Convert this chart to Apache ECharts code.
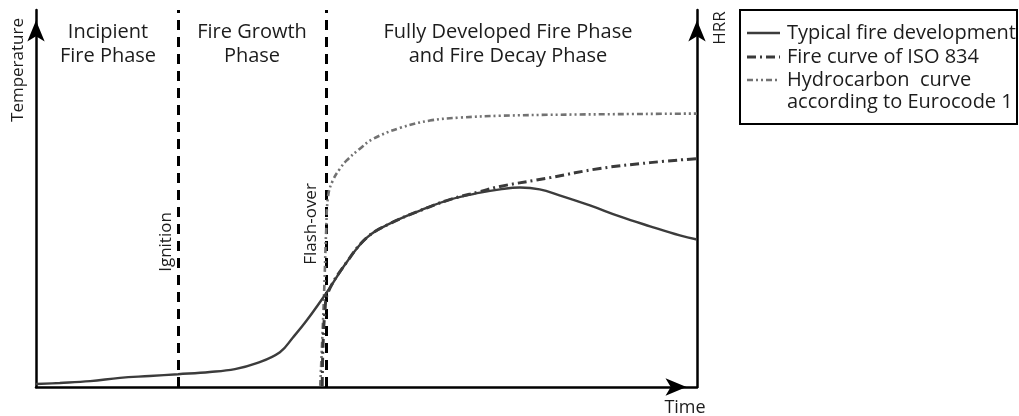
<!DOCTYPE html>
<html>
<head>
<meta charset="utf-8">
<title>Fire development phases</title>
<script src="https://cdn.jsdelivr.net/npm/echarts@6.0.0/dist/echarts.min.js"></script>
<style>
  html, body { margin: 0; padding: 0; background: #fff; }
  #chart { width: 1019px; height: 416px; }
</style>
</head>
<body>
<div id="chart"></div>
<script>
// time (0-100) vs temperature (0-103), relative units
const typicalFire = [
  [0, 0.8], [3.6, 1.1], [8.2, 1.6], [12.7, 2.5], [17.2, 3.0], [21.5, 3.5],
  [26.3, 4.1], [30.1, 4.9], [33.4, 6.5], [36.9, 9.5], [38.9, 13.6], [41.0, 18.3],
  [44.0, 25.9], [47.0, 34.1], [50.1, 40.9], [53.6, 44.7], [58.1, 48.2], [62.6, 51.2],
  [67.2, 53.1], [70.2, 54.0], [73.2, 54.5], [76.2, 54.0], [79.3, 52.3], [83.8, 49.6],
  [88.3, 46.6], [92.9, 43.9], [97.4, 41.4], [100, 40.3]
]
const isoCurve = [
  [43.3, 0.3], [43.4, 10.1], [43.7, 20.4], [44.2, 25.9], [47.0, 34.1], [50.1, 40.9],
  [53.6, 44.7], [58.1, 48.2], [62.6, 51.2], [67.2, 53.4], [70.2, 54.8], [77.8, 57.2],
  [85.3, 59.7], [92.9, 61.3], [100, 62.4]
]
const hydrocarbonCurve = [
  [43.0, 0.3], [43.3, 12.8], [43.6, 26.4], [43.9, 42.8], [44.2, 52.3], [44.9, 56.4],
  [46.0, 59.7], [47.0, 61.9], [49.0, 65.1], [51.0, 67.8], [55.1, 70.8], [59.6, 72.8],
  [64.1, 73.6], [70.2, 74.1], [79.3, 74.4], [100, 74.7]
]
const phaseBounds = [21.5, 43.9] // ignition, flash-over
const phaseTitles = [
  ['Incipient', 'Fire Phase'],
  ['Fire Growth', 'Phase'],
  ['Fully Developed Fire Phase', 'and Fire Decay Phase']
]
const legendNames = ['Typical fire development', 'Fire curve of ISO 834', 'Hydrocarbon  curve', 'according to Eurocode 1']

const FONT = '"Open Sans", sans-serif'
const TXT = '#1c1c1c'

const styles = [
  { color: '#3c3c3c', width: 2.4, type: 'solid' },
  { color: '#3a3a3a', width: 3, type: [9, 4, 2, 4] },
  { color: '#727272', width: 2.6, type: [6, 3, 2, 3, 2, 3] }
]

const chart = echarts.init(document.getElementById('chart'))

const axisLine = {
  show: true,
  symbol: ['none', 'arrow'],
  symbolSize: [13, 21],
  symbolOffset: [0, -10.5],
  lineStyle: { color: '#000', width: 2.5 }
}

const titleCenters = [108, 252, 508]
const graphics = []
phaseTitles.forEach((lines, i) => {
  lines.forEach((t, j) => {
    graphics.push({
      type: 'text', x: titleCenters[i], y: 32 + j * 24,
      style: { text: t, align: 'center', verticalAlign: 'middle', font: '20px ' + FONT, fill: TXT }
    })
  })
})
const rotLabel = (text, x, y, size) => ({
  type: 'text', x, y, rotation: Math.PI / 2,
  style: { text, align: 'center', verticalAlign: 'middle', font: size + 'px ' + FONT, fill: TXT }
})
graphics.push(rotLabel('Temperature', 18, 70, 17))
graphics.push(rotLabel('Ignition', 166, 242, 17))
graphics.push(rotLabel('Flash-over', 311, 224, 17))
graphics.push(rotLabel('HRR', 720, 28, 17))
graphics.push({
  type: 'text', x: 685, y: 408,
  style: { text: 'Time', align: 'center', verticalAlign: 'middle', font: '18px ' + FONT, fill: TXT }
})

// legend box
const legendChildren = [{
  type: 'rect', shape: { x: 0, y: 0, width: 277, height: 114 },
  style: { fill: '#fff', stroke: '#000', lineWidth: 2 }
}]
const rowY = [23, 47, 70, 92]
styles.forEach((s, i) => {
  legendChildren.push({
    type: 'line', shape: { x1: 7, y1: rowY[i], x2: 40, y2: rowY[i] },
    style: { stroke: s.color, lineWidth: s.width, lineDash: s.type === 'solid' ? null : s.type }
  })
})
legendNames.forEach((n, i) => {
  legendChildren.push({
    type: 'text', x: 47, y: rowY[i],
    style: { text: n, align: 'left', verticalAlign: 'middle', font: '20px ' + FONT, fill: TXT }
  })
})
graphics.push({ type: 'group', x: 740, y: 10, children: legendChildren })

const seriesData = [typicalFire, isoCurve, hydrocarbonCurve]
const series = seriesData.map((d, i) => ({
  name: legendNames[i],
  type: 'line',
  data: d,
  showSymbol: false,
  smooth: 0.4,
  z: 10 - i,
  lineStyle: styles[i]
}))
series[0].markLine = {
  silent: true,
  symbol: 'none',
  label: { show: false },
  lineStyle: { color: '#000', width: 3, type: [10, 7] },
  data: phaseBounds.map(v => ({ xAxis: v }))
}

chart.setOption({
  animation: false,
  grid: { left: 36, right: 322, top: 10, bottom: 29 },
  xAxis: {
    type: 'value', min: 0, max: 100,
    axisLine: axisLine,
    axisTick: { show: false }, axisLabel: { show: false }, splitLine: { show: false }
  },
  yAxis: [
    {
      type: 'value', min: 0, max: 103, position: 'left',
      axisLine: axisLine,
      axisTick: { show: false }, axisLabel: { show: false }, splitLine: { show: false }
    },
    {
      type: 'value', min: 0, max: 103, position: 'right',
      axisLine: axisLine,
      axisTick: { show: false }, axisLabel: { show: false }, splitLine: { show: false }
    }
  ],
  graphic: graphics,
  series: series
})
</script>
</body>
</html>
